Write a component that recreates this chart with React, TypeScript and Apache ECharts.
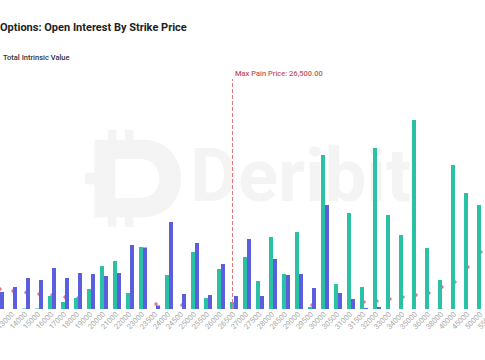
import React, { useEffect, useRef } from "react";
import * as echarts from "echarts";

const strikes = [
  "12000", "13000", "14000", "15000", "16000", "17000", "18000", "19000", "20000", "21000",
  "22000", "23000", "23500", "24000", "24500", "25000", "25500", "26000", "26500", "27000",
  "27500", "28000", "28500", "29000", "29500", "30000", "30500", "31000", "31500", "32000",
  "33000", "34000", "35000", "36000", "38000", "40000", "45000", "50000", "55000",
];

const callsOI = [
  60, 0, 5, 5, 130, 70, 110, 200, 430, 480,
  160, 620, 0, 340, 0, 570, 110, 400, 70, 520,
  280, 720, 350, 770, 20, 1540, 250, 960, 220, 1610,
  940, 740, 1890, 610, 290, 1440, 1160, 1040, 700,
];

const putsOI = [
  170, 220, 310, 290, 410, 310, 360, 350, 330, 360,
  640, 615, 35, 870, 150, 660, 140, 450, 130, 700,
  130, 500, 340, 350, 210, 1040, 160, 100, 10, 20,
  0, 0, 0, 0, 0, 0, 0, 0, 0,
];

const intrinsicValue = [
  400, 360, 330, 300, 280, 240, 220, 190, 170, 150,
  130, 110, 100, 90, 80, 70, 70, 60, 60, 60,
  60, 70, 70, 70, 80, 80, 100, 120, 140, 160,
  200, 240, 280, 320, 440, 540, 840, 1140, 1400,
];

const maxPainStrike = "26500";
const maxPainLabel = "Max Pain Price: 26,500.00";
const titleText = "Options: Open Interest By Strike Price";

const LOGO_D =
  "M10 10 H60 C115 10 115 90 60 90 H10 Z M32 30 V70 H58 C85 70 85 30 58 30 Z " +
  "M24 0 H33 V10 H24 Z M42 0 H51 V10 H42 Z M24 90 H33 V100 H24 Z M42 90 H51 V100 H42 Z " +
  "M0 44 H32 V56 H0 Z";

let registered = false;

export default function App() {
  const ref = useRef<HTMLDivElement>(null);

  useEffect(() => {
    if (!ref.current) return;
    if (!registered) {
      echarts.graphic.registerShape("logo", echarts.graphic.extendPath(LOGO_D, {}));
      registered = true;
    }
    const chart = echarts.init(ref.current, null, { renderer: "svg" });
    const teal = "#2ac1a5";
    const blue = "#5b5fde";
    chart.setOption({
      animation: false,
      backgroundColor: "#ffffff",
      textStyle: { fontFamily: "Roboto" },
      title: {
        text: titleText,
        left: -5,
        top: 17,
        textStyle: { fontSize: 11, fontWeight: "bold", color: "#222", fontFamily: "Roboto" },
      },
      legend: {
        data: ["Total Intrinsic Value"],
        left: -14,
        top: 48,
        itemWidth: 8,
        itemHeight: 6,
        textStyle: { fontSize: 7.5, color: "#333", fontWeight: 500, fontFamily: "Roboto" },
      },
      graphic: [
        {
          type: "logo",
          x: 85,
          y: 130,
          scaleX: 0.95,
          scaleY: 0.97,
          z: -10,
          silent: true,
          style: { fill: "#f4f4f4" },
        },
        {
          type: "text",
          left: 190,
          top: 138,
          z: -10,
          silent: true,
          style: {
            text: "Deribit",
            fontSize: 74,
            fontWeight: "bold",
            fontFamily: "Roboto",
            fill: "#f4f4f4",
          },
        },
      ],
      grid: { left: -6.5, right: -15.5, top: 79, bottom: 51, outerBoundsMode: "none", containLabel: false },
      xAxis: {
        type: "category",
        data: strikes,
        axisLine: { show: false },
        axisTick: { show: false },
        axisLabel: {
          interval: 0,
          rotate: 45,
          fontSize: 7.5,
          color: "#a8a8a8",
          margin: 4,
          formatter: (value: string, index: number) => (index === 0 ? "" : value),
        },
      },
      yAxis: [
        { type: "value", min: 0, max: 2300, show: false, splitLine: { show: false } },
        { type: "value", min: 0, max: 4600, show: false, splitLine: { show: false } },
      ],
      series: [
        {
          name: "Total Intrinsic Value",
          type: "scatter",
          yAxisIndex: 1,
          data: intrinsicValue,
          symbol: "circle",
          symbolSize: 3.5,
          itemStyle: { color: "#d9577a" },
          z: 1,
        },
        {
          name: "Calls",
          type: "bar",
          data: callsOI,
          barWidth: 4,
          barGap: "0%",
          itemStyle: { color: teal },
          z: 2,
          markLine: {
            silent: true,
            symbol: "none",
            lineStyle: { type: "dashed", color: "#e07a7a", width: 1 },
            label: {
              show: true,
              position: "end",
              align: "left",
              distance: 2,
              padding: [0, 0, 0, 3],
              formatter: maxPainLabel,
              fontSize: 7.5,
              fontWeight: 500,
              color: "#c9545c",
            },
            data: [{ xAxis: maxPainStrike }],
          },
        },
        {
          name: "Puts",
          type: "bar",
          data: putsOI,
          barWidth: 4,
          barGap: "0%",
          itemStyle: { color: blue },
          z: 2,
        },
      ],
    });
    return () => chart.dispose();
  }, []);

  return (
    <div
      ref={ref}
      style={{ position: "fixed", left: 0, top: 0, width: 485, height: 360, background: "#fff" }}
    />
  );
}
